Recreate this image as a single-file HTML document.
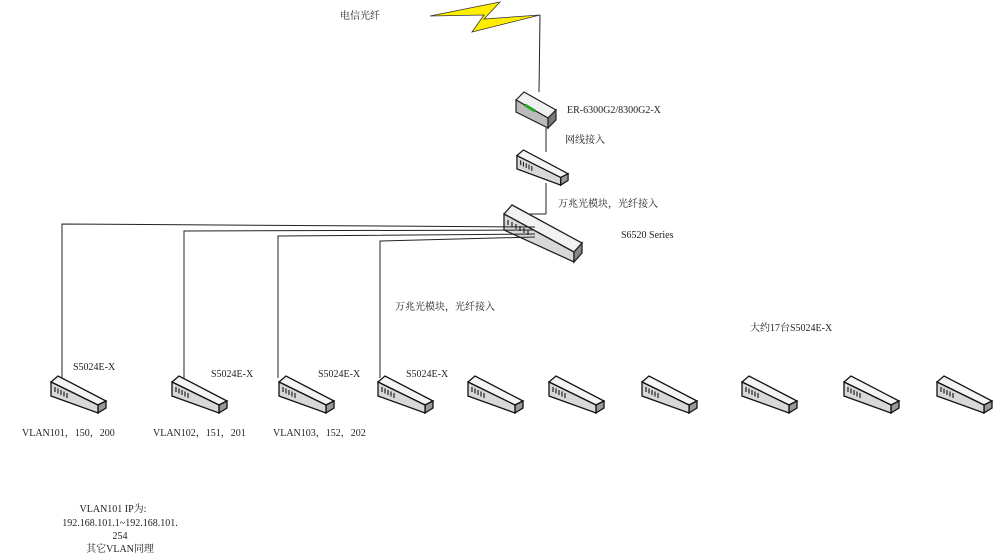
<!DOCTYPE html>
<html><head><meta charset="utf-8"><style>
html,body{margin:0;padding:0;background:#fff;}
svg{display:block;}
text{font-family:"Liberation Serif","Noto Serif CJK SC",serif;font-size:10px;fill:#222;}
</style></head><body>
<svg width="994" height="556" viewBox="0 0 994 556" xmlns="http://www.w3.org/2000/svg">
<defs>
<g id="sw">
<polygon points="1,7 8,1 56,26 48,30" fill="#f4f4f4" stroke="#111" stroke-width="1.3"/>
<polygon points="48,30 56,26 56,33 48,38" fill="#999" stroke="#111" stroke-width="1.3"/>
<polygon points="1,7 48,30 48,38 1,21" fill="#d8d8d8" stroke="#111" stroke-width="1.3"/>
<path d="M5,12v5 M8,13.5v5 M11,15v5 M14,16.5v5 M17,18v5" stroke="#222" stroke-width="1.2"/>
</g>
</defs>
<!-- lightning -->
<polygon points="430,16 500,2 484,19 540,15 472,32 484,15" fill="#ffee00" stroke="#333" stroke-width="0.8"/>
<polyline points="540,15 539,92" fill="none" stroke="#222"/>
<!-- router -->
<g>
<polygon points="516,100 524,92 556,110 548,118" fill="#f0f0f0" stroke="#222" stroke-width="1.2"/>
<polygon points="516,100 548,118 548,128 516,112" fill="#bbb" stroke="#222" stroke-width="1.2"/>
<polygon points="548,118 556,110 556,120 548,128" fill="#777" stroke="#222" stroke-width="1.2"/>
<path d="M525,105 l10,6" stroke="#2a2" stroke-width="3"/>
</g>
<line x1="546" y1="128" x2="546" y2="152" stroke="#222"/>
<use href="#sw" transform="translate(516,149) scale(0.93,0.95)"/>
<line x1="546" y1="183" x2="546" y2="214" stroke="#222"/>
<line x1="546" y1="214" x2="530" y2="214" stroke="#222"/>
<!-- S6520 -->
<g>
<polygon points="504,214 512,205 582,243 574,252" fill="#f2f2f2" stroke="#222" stroke-width="1.3"/>
<polygon points="504,214 574,252 574,262 504,230" fill="#d8d8d8" stroke="#222" stroke-width="1.3"/>
<polygon points="574,252 582,243 582,253 574,262" fill="#888" stroke="#222" stroke-width="1.3"/>
<path d="M508,220v5 M512,222v5 M516,224v5 M520,226v5 M524,228v5 M528,230v5" stroke="#333" stroke-width="1.3"/>
</g>
<!-- links -->
<g fill="none" stroke="#222" stroke-width="1">
<polyline points="535,227 62,224 62,378"/>
<polyline points="535,230 184,231 184,378"/>
<polyline points="535,234 278,236 278,378"/>
<polyline points="535,237 380,241 380,378"/>
</g>
<use href="#sw" x="50" y="375"/>
<use href="#sw" x="171" y="375"/>
<use href="#sw" x="278" y="375"/>
<use href="#sw" x="377" y="375"/>
<use href="#sw" x="467" y="375"/>
<use href="#sw" x="548" y="375"/>
<use href="#sw" x="641" y="375"/>
<use href="#sw" x="741" y="375"/>
<use href="#sw" x="843" y="375"/>
<use href="#sw" x="936" y="375"/>
<text x="340" y="19">电信光纤</text>
<text x="567" y="113">ER-6300G2/8300G2-X</text>
<text x="565" y="143">网线接入</text>
<text x="558" y="207">万兆光模块，光纤接入</text>
<text x="621" y="238">S6520 Series</text>
<text x="395" y="310">万兆光模块，光纤接入</text>
<text x="750" y="331">大约17台S5024E-X</text>
<text x="73" y="370">S5024E-X</text>
<text x="211" y="377">S5024E-X</text>
<text x="318" y="377">S5024E-X</text>
<text x="406" y="377">S5024E-X</text>
<text x="22" y="436">VLAN101，150，200</text>
<text x="153" y="436">VLAN102，151，201</text>
<text x="273" y="436">VLAN103，152，202</text>
<g text-anchor="middle">
<text x="113" y="512">VLAN101 IP为:</text>
<text x="120" y="526">192.168.101.1~192.168.101.</text>
<text x="120" y="539">254</text>
<text x="120" y="552">其它VLAN同理</text>
</g>
</svg>
</body></html>
